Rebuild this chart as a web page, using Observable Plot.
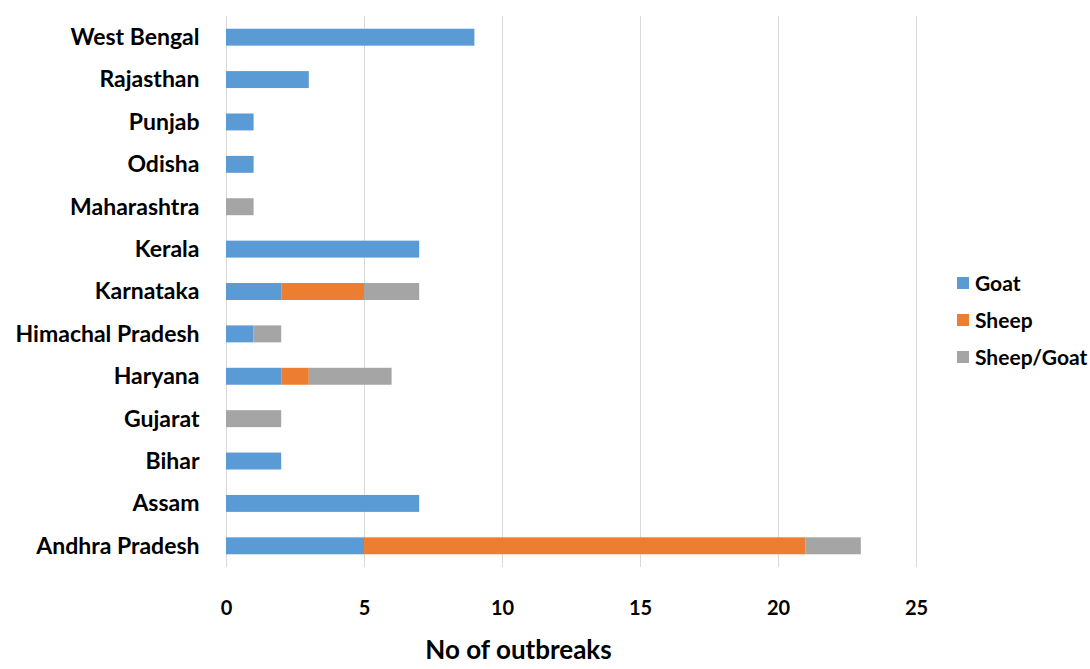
<!DOCTYPE html>
<html>
<head>
<meta charset="utf-8">
<script src="https://cdn.jsdelivr.net/npm/d3@7"></script>
<script src="https://cdn.jsdelivr.net/npm/@observablehq/plot@0.6"></script>
<style>
  body { margin: 0; background: #fff; font-family: Lato, "Open Sans", sans-serif; }
  #chart { position: relative; width: 1090px; height: 669px; overflow: hidden; }
  #legend { position: absolute; left: 957px; top: 264px; }
  .item { display: flex; align-items: center; height: 37px; font-size: 21px; font-weight: 700; color: #000; white-space: nowrap; }
  .item span.sw { width: 12px; height: 12px; margin-right: 6px; display: inline-block; }
</style>
</head>
<body>
<div id="chart"><div id="legend"></div></div>
<script>
// States, top to bottom as listed on the axis
const states = ["West Bengal", "Rajasthan", "Punjab", "Odisha", "Maharashtra", "Kerala",
  "Karnataka", "Himachal Pradesh", "Haryana", "Gujarat", "Bihar", "Assam", "Andhra Pradesh"];

// Outbreak counts per host species
const goat      = [9, 3, 1, 1, 0, 7, 2, 1, 2, 0, 2, 7, 5];
const sheep     = [0, 0, 0, 0, 0, 0, 3, 0, 1, 0, 0, 0, 16];
const sheepGoat = [0, 0, 0, 0, 1, 0, 2, 1, 3, 2, 0, 0, 2];

const seriesNames = ["Goat", "Sheep", "Sheep/Goat"];
const seriesColors = ["#5B9BD5", "#ED7D31", "#A5A5A5"];
const xTicks = [0, 5, 10, 15, 20, 25];
const xTitle = "No of outbreaks";

const seriesValues = [goat, sheep, sheepGoat];
const rows = [];
seriesNames.forEach((name, s) => {
  states.forEach((state, i) => {
    rows.push({state, species: name, count: seriesValues[s][i]});
  });
});

const chart = Plot.plot({
  width: 1090,
  height: 669,
  marginLeft: 226,
  marginRight: 174,
  marginTop: 16,
  marginBottom: 102,
  style: {fontFamily: "Lato, 'Open Sans', sans-serif", color: "#000", background: "#fff"},
  x: {domain: [0, 25], ticks: xTicks},
  y: {domain: states, paddingInner: 0.6, paddingOuter: 0.3, round: false},
  color: {domain: seriesNames, range: seriesColors},
  marks: [
    Plot.ruleX(xTicks, {stroke: "#d9d9d9", strokeWidth: 1}),
    Plot.barX(rows, Plot.stackX({y: "state", x: "count", fill: "species", order: seriesNames})),
    Plot.axisY({tickSize: 0, tickPadding: 27, fontSize: 23, fontWeight: 700, label: null}),
    Plot.axisX({tickSize: 0, tickPadding: 33, fontSize: 20, fontWeight: 700, ticks: xTicks, label: null}),
    // axis title, set a little left of the frame centre
    Plot.text([xTitle], {frameAnchor: "bottom", text: d => d, dx: -53, dy: 91,
      fontSize: 26, fontWeight: 700, fill: "#000"})
  ]
});

document.getElementById("chart").prepend(chart);

const legend = d3.select("#legend");
seriesNames.forEach((name, i) => {
  const item = legend.append("div").attr("class", "item");
  item.append("span").attr("class", "sw").style("background", seriesColors[i]);
  item.append("span").text(name);
});
</script>
</body>
</html>
